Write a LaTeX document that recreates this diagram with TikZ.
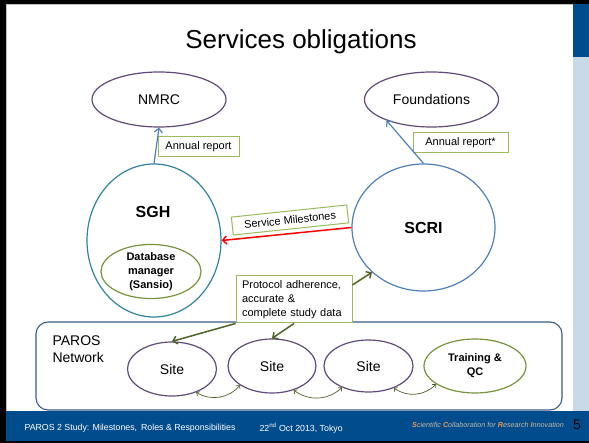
\documentclass[tikz,border=0pt]{standalone}
\usepackage{fontspec}
\setmainfont{Liberation Sans}
\usetikzlibrary{shapes.geometric,arrows.meta}
\definecolor{slideblue}{RGB}{0,76,140}
\definecolor{panelblue}{RGB}{200,216,230}
\definecolor{orgpurple}{RGB}{96,74,123}
\definecolor{sghteal}{RGB}{49,132,155}
\definecolor{scriblue}{RGB}{79,129,189}
\definecolor{boxgreen}{RGB}{155,187,89}
\definecolor{olivegreen}{RGB}{119,147,60}
\definecolor{darkolive}{RGB}{79,98,40}
\definecolor{netblue}{RGB}{56,93,138}
\definecolor{scorange}{RGB}{247,150,70}
\definecolor{sctan}{RGB}{196,186,166}
\newcommand{\txtsize}[2]{\fontsize{#1}{#2}\selectfont}
\tikzset{org/.style = {draw=orgpurple, line width=1.2pt, ellipse, inner sep=0}}
\tikzset{lbl/.style = {draw=boxgreen, line width=1pt, fill=white, inner sep=0, font=\txtsize{11}{13}}}
\tikzset{barb/.tip = {Straight Barb[length=4pt,width=8pt]}}
\tikzset{rep/.style = {draw=scriblue, line width=1.2pt, -barb}}
\tikzset{mil/.style = {draw=red, line width=1.5pt, -barb}}
\tikzset{dat/.style = {draw=darkolive, line width=1.5pt, -barb}}
\tikzset{swap/.style = {draw=darkolive, line width=0.7pt, {Straight Barb[length=2.5pt,width=5pt]}-{Straight Barb[length=2.5pt,width=5pt]}}}
\begin{document}
\begin{tikzpicture}[x=1pt, y=-1pt, font=\txtsize{14}{17}]
    \useasboundingbox (0,0) rectangle (589,443);
    % slide frame
    \fill[black] (0,0) rectangle (589,443);
    \fill[white] (6,4) rectangle (589,441);
    \draw[gray!50, line width=0.8pt] (6.5,441) -- (6.5,4.5) -- (573,4.5);
    \fill[slideblue] (573,4) rectangle (589,57);
    \fill[panelblue] (573,57) rectangle (589,411);
    \fill[slideblue] (6,411) rectangle (589,441);
    \node[font=\txtsize{26}{31}] (title) at (301,42) {Services obligations};
    % funders and institutions
    \node[org, minimum width=134, minimum height=55] (nmrc) at (159,99.5) {NMRC};
    \node[org, minimum width=134, minimum height=55] (found) at (431.5,99.5) {Foundations};
    \node[draw=sghteal, line width=1.2pt, ellipse, inner sep=0, minimum width=134, minimum height=153] (sgh) at (154,240.5) {};
    \node[font=\bfseries\txtsize{16}{19}] (sghlbl) at (153,212) {SGH};
    \node[draw=olivegreen, line width=1.2pt, ellipse, inner sep=0, minimum width=100, minimum height=53,
          align=center, font=\bfseries\txtsize{11}{14}] (db) at (151,271.5) {Database\\manager\\(Sansio)};
    \node[draw=scriblue, line width=1.2pt, ellipse, inner sep=0, minimum width=143, minimum height=127,
          font=\bfseries\txtsize{16}{19}] (scri) at (423.5,227.5) {SCRI};
    % network
    \node[draw=netblue, line width=1.1pt, rounded corners=12, minimum width=526, minimum height=88] (net) at (299,366) {};
    \node[align=left, anchor=west] (netlbl) at (49,349.5) {PAROS\\Network};
    \node[org, minimum width=89, minimum height=54] (site1) at (172,369) {Site};
    \node[org, minimum width=88, minimum height=54] (site2) at (272,366) {Site};
    \node[org, minimum width=89, minimum height=52] (site3) at (368.5,366) {Site};
    \node[org, draw=olivegreen, minimum width=102, minimum height=54, align=center,
          font=\bfseries\txtsize{11}{14}] (train) at (475,366) {Training \&\\QC};
    % labels
    \node[lbl, minimum width=81, minimum height=20] (annual) at (198.5,147) {Annual report};
    \node[lbl, minimum width=95, minimum height=20] (annualst) at (460.5,143) {Annual report*};
    \node[lbl, minimum width=116, minimum height=18, rotate=6] (miles) at (290,220) {Service Milestones};
    \node[lbl, minimum width=116, minimum height=47, inner xsep=6, text width=104, align=left,
          font=\txtsize{11}{14}] (proto) at (294,299.5) {Protocol adherence,\\accurate \&\\complete study data};
    % flows
    \draw[rep] (sgh.north) -- (nmrc.south);
    \draw[rep] (scri.north) -- (found.205);
    \draw[mil] (scri.west) -- (sgh.east);
    \draw[dat] (proto.14) -- (scri.221);
    \draw[dat] (proto.south west) -- (site1.north);
    \draw[dat] (proto.south) -- (site2.north);
    \draw[swap] (site1.-44) to[bend right=40] (site2.211);
    \draw[swap] (site2.-48) to[bend right=40] (site3.219);
    \draw[swap] (site3.-41) to[bend right=40] (train.205);
    % footer
    \node[white, anchor=west, font=\txtsize{8.8}{10}] (foot1) at (21,428) {PAROS 2 Study: Milestones,\, Roles \& Responsibilities};
    \node[white, anchor=west, font=\txtsize{8.8}{10}] (foot2) at (256,428) {22\textsuperscript{nd} Oct 2013, Tokyo};
    \node[anchor=west, inner sep=0, font=\itshape\txtsize{7.2}{9}] (motto) at (412,425)
        {\textcolor{scorange}{\bfseries S}\textcolor{sctan}{cientific} \textcolor{scorange}{\bfseries C}\textcolor{sctan}{ollaboration for} \textcolor{scorange}{\bfseries R}\textcolor{sctan}{esearch} \textcolor{scorange}{\bfseries I}\textcolor{sctan}{nnovation}};
    \node[font=\txtsize{14}{17}] (pageno) at (577,425) {5};
\end{tikzpicture}
\end{document}
